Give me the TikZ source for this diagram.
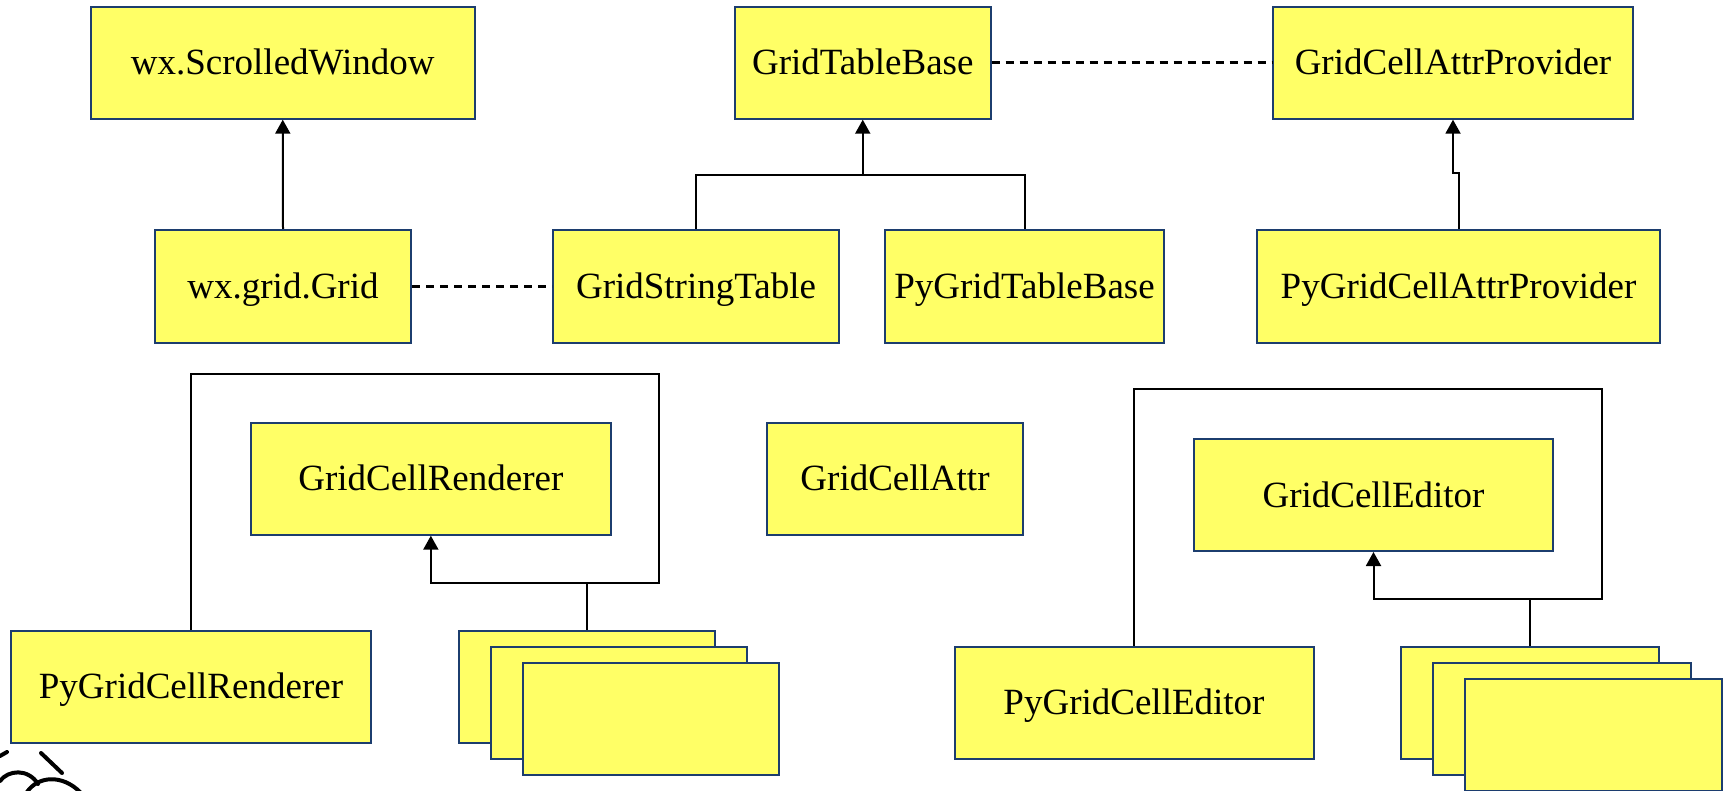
\documentclass[tikz,border=0pt]{standalone}
\usepackage{fontspec}
\setmainfont{Liberation Serif}
\usetikzlibrary{arrows.meta}
\definecolor{boxfill}{HTML}{FFFF66}
\definecolor{boxline}{HTML}{1C3D6E}
\tikzset{
  box/.style={draw=boxline, line width=2pt, fill=boxfill, rectangle, inner sep=0pt,
    font=\fontsize{37}{44}\selectfont, text height=24.5pt, text depth=0pt},
  conn/.style={draw=black, line width=2pt},
  inh/.style={conn, -{Triangle[width=15pt,length=14pt]}},
  assoc/.style={conn, line width=2.5pt, dash pattern=on 8pt off 6pt},
  sketch/.style={draw=black, line width=4pt, line cap=round}
}
\begin{document}
\begin{tikzpicture}[x=1pt, y=-1pt]
\useasboundingbox (0,0) rectangle (1723,791);
% top row
\node[box, minimum width=384.5pt, minimum height=112pt] (sw) at (282.75,62.7) {wx.ScrolledWindow};
\node[box, minimum width=255.5pt, minimum height=112pt] (gtb) at (862.75,62.7) {GridTableBase};
\node[box, minimum width=360pt, minimum height=112pt] (gcap) at (1453,62.7) {GridCellAttrProvider};
% second row
\node[box, minimum width=256pt, minimum height=113pt] (grid) at (283,286.5) {wx.grid.Grid};
\node[box, minimum width=286pt, minimum height=113pt] (gst) at (696,286.5) {GridStringTable};
\node[box, minimum width=279pt, minimum height=113pt] (pgtb) at (1024.5,286.5) {PyGridTableBase};
\node[box, minimum width=403pt, minimum height=113pt] (pgcap) at (1458.5,286.5) {PyGridCellAttrProvider};
% third row
\node[box, minimum width=360pt, minimum height=112pt] (gcr) at (430.85,478.7) {GridCellRenderer};
\node[box, minimum width=256pt, minimum height=112pt] (gca) at (895,478.7) {GridCellAttr};
\node[box, minimum width=359pt, minimum height=112pt] (gce) at (1373.5,495) {GridCellEditor};
% bottom row
\node[box, minimum width=360pt, minimum height=112pt] (pgcr) at (191,686.7) {PyGridCellRenderer};
\node[box, minimum width=256pt, minimum height=112pt] (r1) at (586.7,686.7) {};
\node[box, minimum width=256pt, minimum height=112pt] (r2) at (618.7,702.7) {};
\node[box, minimum width=256pt, minimum height=112pt] (r3) at (650.9,718.9) {};
\node[box, minimum width=359pt, minimum height=112pt] (pgce) at (1134,702.7) {PyGridCellEditor};
\node[box, minimum width=258pt, minimum height=112pt] (e1) at (1530,702.7) {};
\node[box, minimum width=258pt, minimum height=112pt] (e2) at (1562,718.7) {};
\node[box, minimum width=257pt, minimum height=112pt] (e3) at (1593.5,734.7) {};
% connectors
\draw[inh] (grid.north) -- (sw.south);
\coordinate (jt) at (862.75,175);
\draw[conn] (gst.north) |- (jt) -| (pgtb.north);
\draw[inh] (jt) -- (gtb.south);
\draw[assoc] (gtb.east) -- (gcap.west);
\draw[assoc] (grid.east) -- (gst.west);
\draw[inh] (pgcap.north) -- ++(0,-56) -| (gcap.south);
% left bracket
\coordinate (ltop) at (659,374);
\coordinate (lbar) at (659,583.3);
\draw[inh] (pgcr.north) |- (ltop) -- (lbar) -| (gcr.south);
\draw[conn] (r1.north) -- (r1.north |- lbar);
% right bracket
\coordinate (rtop) at (1601.6,389.3);
\coordinate (rbar) at (1601.6,599.3);
\draw[inh] (pgce.north) |- (rtop) -- (rbar) -| (gce.south);
\draw[conn] (e1.north) -- (e1.north |- rbar);
% partial sketch at bottom left
\draw[sketch] (0,756) -- (7,752);
\draw[sketch] (41,753) -- (62,773);
\draw[sketch] (0,781) .. controls (8,770) and (28,768) .. (38,784);
\draw[sketch] (27,792) .. controls (38,776) and (62,774) .. (80,792);
\end{tikzpicture}
\end{document}
